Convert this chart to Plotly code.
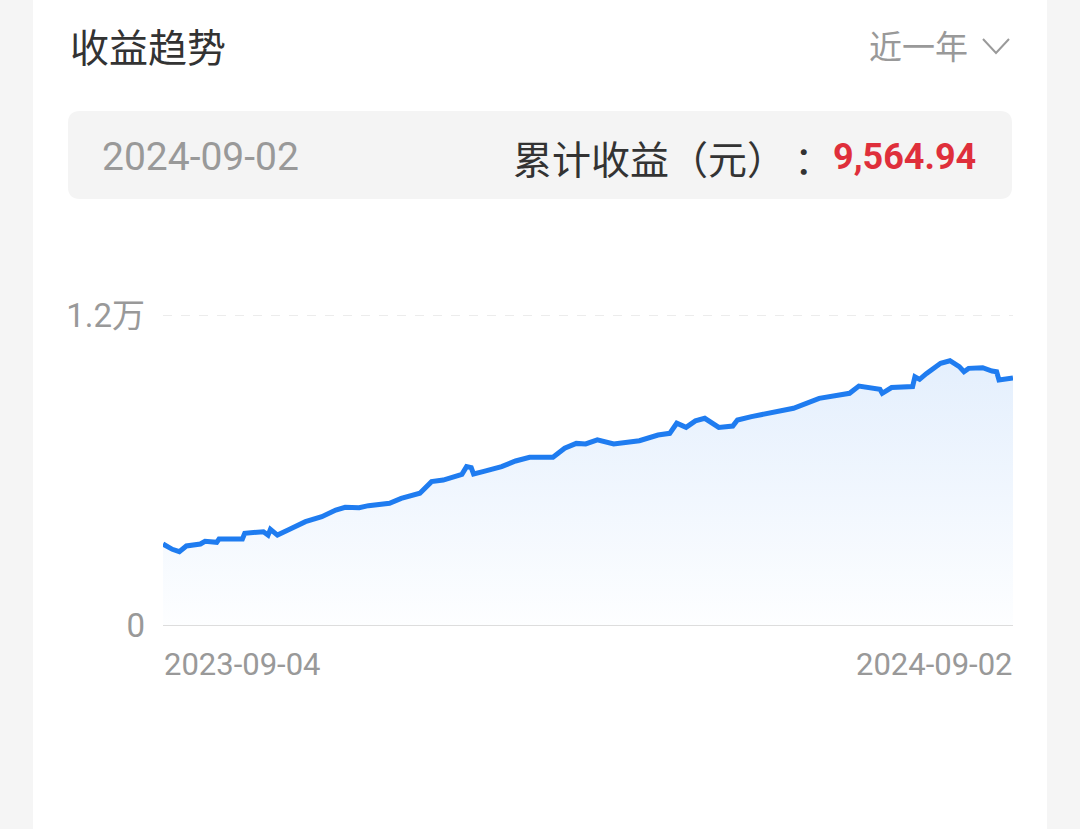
import plotly.graph_objects as go

dates = ["2023-09-04", "2023-09-08", "2023-09-11", "2023-09-14", "2023-09-20", "2023-09-22",
         "2023-09-27", "2023-09-28", "2023-10-08", "2023-10-09", "2023-10-17", "2023-10-19",
         "2023-10-20", "2023-10-23", "2023-10-28", "2023-11-04", "2023-11-11", "2023-11-17",
         "2023-11-21", "2023-11-27", "2023-12-01", "2023-12-10", "2023-12-15", "2023-12-23",
         "2023-12-28", "2024-01-02", "2024-01-10", "2024-01-12", "2024-01-14", "2024-01-15",
         "2024-01-19", "2024-01-27", "2024-02-02", "2024-02-08", "2024-02-18", "2024-02-23",
         "2024-02-28", "2024-03-03", "2024-03-08", "2024-03-15", "2024-03-26", "2024-04-03",
         "2024-04-08", "2024-04-11", "2024-04-15", "2024-04-19", "2024-04-23", "2024-04-26",
         "2024-04-29", "2024-05-05", "2024-05-07", "2024-05-13", "2024-05-25", "2024-05-31",
         "2024-06-11", "2024-06-20", "2024-06-24", "2024-06-28", "2024-07-04", "2024-07-07",
         "2024-07-08", "2024-07-12", "2024-07-21", "2024-07-22", "2024-07-24", "2024-07-27",
         "2024-08-02", "2024-08-06", "2024-08-10", "2024-08-12", "2024-08-14", "2024-08-20",
         "2024-08-24", "2024-08-26", "2024-08-27", "2024-09-02"]
profit = [3135, 2930, 2840, 3060, 3135, 3240,
          3200, 3330, 3330, 3550, 3610, 3480,
          3700, 3480, 3700, 4000, 4190, 4450,
          4555, 4540, 4620, 4710, 4900, 5100,
          5550, 5610, 5830, 6130, 6090, 5845,
          5935, 6130, 6350, 6490, 6490, 6840,
          7030, 7010, 7170, 7010, 7135, 7355,
          7420, 7810, 7650, 7900, 8000, 7810,
          7650, 7700, 7935, 8065, 8260, 8390,
          8775, 8940, 8970, 9250, 9160, 9125,
          8970, 9190, 9230, 9610, 9510, 9740,
          10130, 10230, 10000, 9805, 9935, 9960,
          9830, 9805, 9485, 9564.94]
y_ticks = [0, 12000]
y_tick_text = ["0", "1.2万"]
x_labels = ["2023-09-04", "2024-09-02"]

title = "收益趋势"
period = "近一年"
sel_date = "2024-09-02"
total_label = "累计收益（元）："
total_value = "9,564.94"

W, H = 1080, 829
FONT = "Roboto, Noto Sans CJK SC, sans-serif"
CJK = "Noto Sans CJK SC, sans-serif"

fig = go.Figure()
fig.add_trace(go.Scatter(
    x=dates, y=profit, mode="lines",
    line=dict(color="#1f7cf0", width=5),
    fill="tozeroy",
    fillgradient=dict(type="vertical",
                      colorscale=[[0, "rgba(253,254,255,1)"], [1, "rgba(228,239,253,1)"]]),
    hoverinfo="skip", showlegend=False,
))

# white card on grey page
fig.add_shape(type="rect", xref="paper", yref="paper", x0=33 / W, x1=1047 / W, y0=0, y1=1,
              fillcolor="white", line_width=0, layer="below")
# summary box
fig.add_shape(type="path", xref="paper", yref="paper", layer="below",
              path="M {a},{b} L {c},{b} Q {e},{b} {e},{f} L {e},{g} Q {e},{h} {c},{h} "
                   "L {a},{h} Q {i},{h} {i},{g} L {i},{f} Q {i},{b} {a},{b} Z".format(
                  a=80 / W, c=1000 / W, e=1012 / W, i=68 / W,
                  b=1 - 111 / H, f=1 - 123 / H, g=1 - 187 / H, h=1 - 199 / H),
              fillcolor="#f4f4f4", line_width=0)
# chevron after 近一年
fig.add_shape(type="path", xref="paper", yref="paper",
              path="M {x0},{y0} L {x1},{y1} L {x2},{y0}".format(
                  x0=983 / W, x1=996 / W, x2=1009 / W, y0=1 - 39 / H, y1=1 - 53 / H),
              line=dict(color="#9a9a9a", width=2))
# dashed guide at the top tick
fig.add_shape(type="line", xref="x domain", yref="y", x0=0, x1=1, y0=y_ticks[1], y1=y_ticks[1],
              line=dict(color="#d9d9d9", width=1, dash="dash"))

fig.add_annotation(text=title, xref="paper", yref="paper", x=68 / W, y=1 - 45 / H,
                   xanchor="left", yanchor="middle", showarrow=False,
                   font=dict(family=CJK, size=39, color="#333333"))
fig.add_annotation(text=period, xref="paper", yref="paper", x=970 / W, y=1 - 45 / H,
                   xanchor="right", yanchor="middle", showarrow=False,
                   font=dict(family=CJK, size=33, color="#999999"))
fig.add_annotation(text=sel_date, xref="paper", yref="paper", x=100 / W, y=1 - 157 / H,
                   xanchor="left", yanchor="middle", showarrow=False,
                   font=dict(family=FONT, size=39, color="#999999"))
# label and its colon set apart so the browser does not squeeze the punctuation
fig.add_annotation(text=total_label[:-1], xref="paper", yref="paper", x=511 / W, y=1 - 157 / H,
                   xanchor="left", yanchor="middle", showarrow=False,
                   font=dict(family=CJK, size=39, color="#333333"))
fig.add_annotation(text=total_label[-1], xref="paper", yref="paper", x=792 / W, y=1 - 157 / H,
                   xanchor="left", yanchor="middle", showarrow=False,
                   font=dict(family=CJK, size=39, color="#333333"))
fig.add_annotation(text="<b>" + total_value + "</b>", xref="paper", yref="paper", x=978 / W,
                   y=1 - 157 / H, xanchor="right", yanchor="middle", showarrow=False,
                   font=dict(family=FONT, size=36, color="#df2f3b"))

# x end labels
fig.add_annotation(text=x_labels[0], xref="paper", yref="paper", x=162 / W, y=1 - 664 / H,
                   xanchor="left", yanchor="middle", showarrow=False,
                   font=dict(family=FONT, size=31, color="#999999"))
fig.add_annotation(text=x_labels[1], xref="paper", yref="paper", x=1015 / W, y=1 - 664 / H,
                   xanchor="right", yanchor="middle", showarrow=False,
                   font=dict(family=FONT, size=31, color="#999999"))

fig.update_layout(
    width=W, height=H,
    margin=dict(l=0, r=0, t=0, b=0),
    paper_bgcolor="#f5f5f5", plot_bgcolor="rgba(0,0,0,0)",
    xaxis=dict(domain=[163 / W, 1013 / W], range=[dates[0], dates[-1]], automargin=False,
               showgrid=False, showticklabels=False, zeroline=False, showline=False,
               fixedrange=True),
    yaxis=dict(domain=[1 - 625 / H, 1 - 315 / H], range=[0, 12000], automargin=False,
               tickvals=y_ticks, ticktext=y_tick_text, ticks="", ticklabelstandoff=17,
               showgrid=False, zeroline=True, zerolinecolor="#dddddd", zerolinewidth=1,
               showline=False,
               tickfont=dict(family=FONT, size=33, color="#999999"), fixedrange=True),
    font=dict(family=FONT),
)

fig.write_html("out.html", config={"displayModeBar": False},
               post_script="document.body.style.margin='0';document.body.style.overflow='hidden';")
